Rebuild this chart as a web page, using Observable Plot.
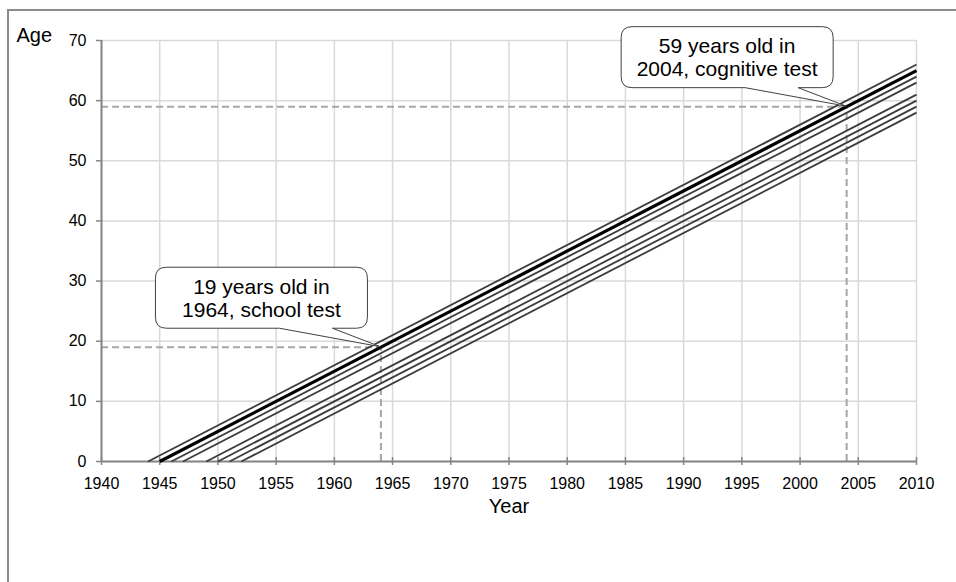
<!DOCTYPE html>
<html>
<head>
<meta charset="utf-8">
<script src="https://cdn.jsdelivr.net/npm/d3@7"></script>
<script src="https://cdn.jsdelivr.net/npm/@observablehq/plot@0.6"></script>
<style>
  body { margin: 0; background: #fff; }
  #wrap { position: relative; width: 956px; height: 582px; overflow: hidden; }
  #frame { position: absolute; left: 7px; top: 9px; width: 1100px; height: 1100px;
           border-left: 2px solid #8c8c8c; border-top: 2px solid #8c8c8c; pointer-events: none; }
</style>
</head>
<body>
<div id="wrap"><div id="frame"></div></div>
<script>
// Birth-cohort lines: start at age 0 in birth year, end at 2010
const cohortBirthYear = [1944, 1945, 1946, 1947, 1949, 1950, 1951, 1952];
const cohortEndYear   = [2010, 2010, 2010, 2010, 2010, 2010, 2010, 2010];
const cohortEndAge    = [66, 65, 64, 63, 61, 60, 59, 58];
const cohortHighlight = [false, true, false, false, false, false, false, false];

// Tick labels
const xTicks = [1940, 1945, 1950, 1955, 1960, 1965, 1970, 1975, 1980, 1985, 1990, 1995, 2000, 2005, 2010];
const yTicks = [0, 10, 20, 30, 40, 50, 60, 70];

// Annotated test points
const noteYear  = [1964, 2004];
const noteAge   = [19, 59];
const noteLine1 = ["19 years old in", "59 years old in"];
const noteLine2 = ["1964, school test", "2004, cognitive test"];

const xTitle = "Year";
const yTitle = "Age";

const cohorts = cohortBirthYear.map((b, i) => ({
  birth: b, startAge: 0, endYear: cohortEndYear[i], endAge: cohortEndAge[i], hi: cohortHighlight[i]
}));
const notes = noteYear.map((y, i) => ({year: y, age: noteAge[i], l1: noteLine1[i], l2: noteLine2[i]}));

const xMin = xTicks[0], xMax = xTicks[xTicks.length - 1];
const yMin = yTicks[0], yMax = yTicks[yTicks.length - 1];

function callouts(index, scales) {
  const g = d3.create("svg:g");
  for (const n of notes) {
    const px = scales.x(n.year), py = scales.y(n.age);
    const L = px - 225, R = px - 13, T = py - 79.5, B = py - 18.5, r = 11;
    const w1 = px - 101, w2 = px - 48;
    const p = `M${L + r},${T} H${R - r} Q${R},${T} ${R},${T + r} V${B - r} Q${R},${B} ${R - r},${B}` +
              ` H${w2} L${px},${py} L${w1},${B} H${L + r} Q${L},${B} ${L},${B - r} V${T + r} Q${L},${T} ${L + r},${T} Z`;
    g.append("path").attr("d", p).attr("fill", "#fff").attr("stroke", "#404040").attr("stroke-width", 1);
    const cx = (L + R) / 2;
    g.append("text").attr("x", cx).attr("y", py - 53).attr("text-anchor", "middle")
      .attr("font-size", 21).attr("fill", "#000").text(n.l1);
    g.append("text").attr("x", cx).attr("y", py - 30).attr("text-anchor", "middle")
      .attr("font-size", 21).attr("fill", "#000").text(n.l2);
  }
  return g.node();
}

const tickFont = "'Liberation Sans Narrow', 'Arial Narrow', 'Liberation Sans', Arial, sans-serif";

const chart = Plot.plot({
  width: 956,
  height: 582,
  marginLeft: 101,
  marginRight: 40,
  marginTop: 40,
  marginBottom: 121,
  style: {fontFamily: "'Liberation Sans', Arial, sans-serif", color: "#000", background: "white", overflow: "visible"},
  x: {domain: [xMin, xMax]},
  y: {domain: [yMin, yMax]},
  marks: [
    // gridlines
    Plot.ruleX(xTicks, {stroke: "#d9d9d9", strokeWidth: 1.5}),
    Plot.ruleY(yTicks, {stroke: "#d9d9d9", strokeWidth: 1.5}),
    // reference dashed lines
    Plot.ruleY(notes, {y: "age", x1: xMin, x2: "year", stroke: "#a6a6a6", strokeWidth: 2, strokeDasharray: "7,4"}),
    Plot.ruleX(notes, {x: "year", y1: yMin, y2: "age", stroke: "#a6a6a6", strokeWidth: 2, strokeDasharray: "7,4"}),
    // axis lines and ticks
    Plot.ruleY([yMin], {x1: xMin, x2: xMax, stroke: "#868686", strokeWidth: 2}),
    Plot.ruleX([xMin], {y1: yMin, y2: yMax, stroke: "#868686", strokeWidth: 2}),
    Plot.ruleX(xTicks, {y1: yMin, y2: yMin, insetTop: -4, insetBottom: -4, stroke: "#868686", strokeWidth: 1.5}),
    Plot.ruleY(yTicks, {x1: xMin, x2: xMin, insetLeft: -5, stroke: "#868686", strokeWidth: 1.5}),
    Plot.axisX({ticks: xTicks, tickSize: 0, tickPadding: 16, tickFormat: d => String(d), label: null,
                fontSize: 16, fontFamily: tickFont}),
    Plot.axisY({ticks: yTicks, tickSize: 0, tickPadding: 15, tickFormat: d => String(d), label: null,
                fontSize: 16, fontFamily: tickFont}),
    // cohort lines
    Plot.link(cohorts.filter(d => !d.hi), {x1: "birth", y1: "startAge", x2: "endYear", y2: "endAge",
      stroke: "#3c3c3c", strokeWidth: 1.8}),
    Plot.link(cohorts.filter(d => d.hi), {x1: "birth", y1: "startAge", x2: "endYear", y2: "endAge",
      stroke: "#000", strokeWidth: 3.2}),
    // axis titles
    Plot.text([xTitle], {frameAnchor: "bottom", dy: 51, fontSize: 20, text: d => d}),
    Plot.text([yTitle], {frameAnchor: "top-left", textAnchor: "start", dx: -85, dy: -13, fontSize: 20, text: d => d}),
    // callouts
    callouts
  ]
});
document.getElementById("wrap").prepend(chart);
</script>
</body>
</html>
